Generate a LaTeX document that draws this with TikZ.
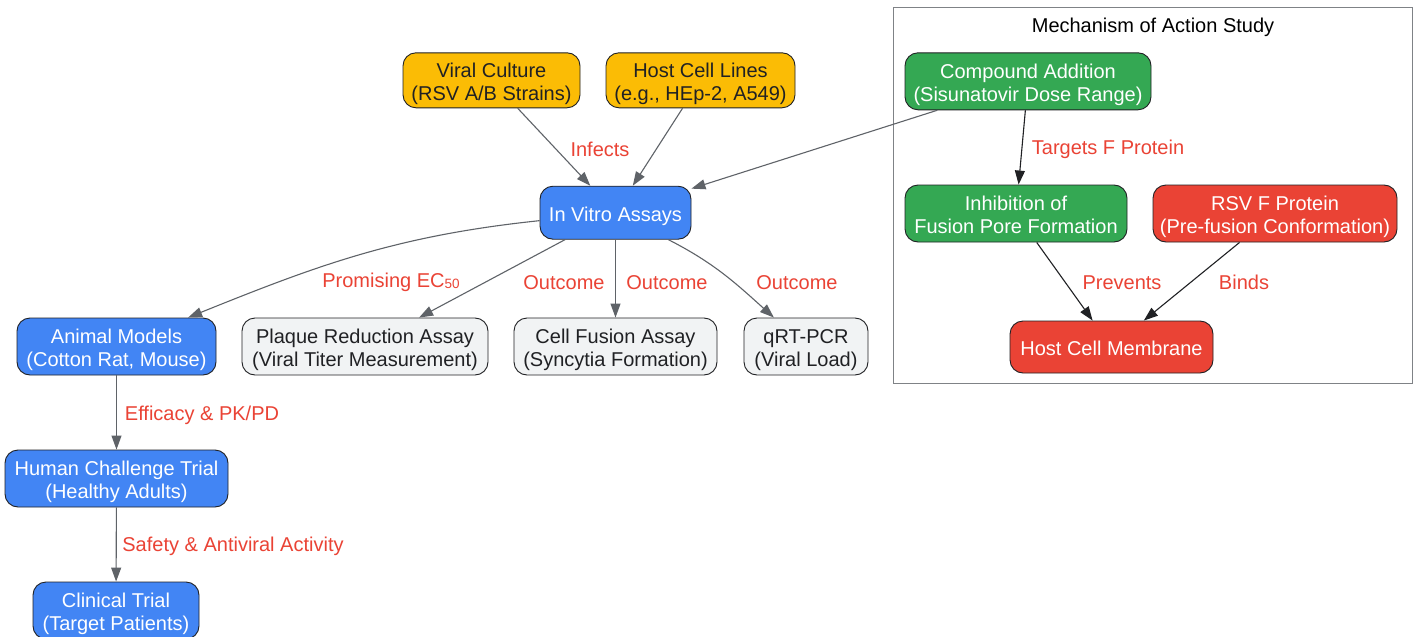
\documentclass[tikz,border=0pt]{standalone}
\usepackage{fontspec}
\setmainfont{Liberation Sans}
\usetikzlibrary{arrows.meta}
\definecolor{cyellow}{HTML}{FBBC05}
\definecolor{cblue}{HTML}{4285F4}
\definecolor{cgreen}{HTML}{34A853}
\definecolor{cred}{HTML}{EA4335}
\definecolor{cgrayfill}{HTML}{F1F3F4}
\definecolor{cdark}{HTML}{202124}
\definecolor{cedge}{HTML}{5F6368}
\definecolor{clabel}{HTML}{EA4335}
\def\bxH{44.5pt}
\tikzset{
  bxh/.code={\def\bxH{#1}},
  box/.style={draw=cdark, line width=0.9pt, rounded corners=13pt, inner sep=0pt, align=center,
    font=\fontsize{20}{23}\selectfont, bxh=45pt,
    execute at begin node={\rule{0pt}{\bxH}},
    execute at end node={\rule[-4.5pt]{0pt}{0pt}}},
  single/.style={bxh=21.5pt},
  yel/.style={box, fill=cyellow, text=cdark},
  blu/.style={box, fill=cblue, text=white},
  grn/.style={box, fill=cgreen, text=white},
  rd/.style={box, fill=cred, text=white},
  gry/.style={box, fill=cgrayfill, text=cdark},
  edge/.style={draw=cedge, line width=1.1pt, -{Triangle[length=14pt,width=10pt]}},
  bedge/.style={draw=cdark, line width=1.1pt, -{Triangle[length=14pt,width=10pt]}},
  lbl/.style={text=clabel, inner sep=0pt, font=\fontsize{20}{23}\selectfont},
}
\begin{document}
\begin{tikzpicture}[x=1pt,y=1pt]
\useasboundingbox[fill=white] (0,0) rectangle (1417,-637);
% cluster
\node[draw=cedge!80, line width=0.9pt, minimum width=519pt, minimum height=376pt, inner sep=0pt] (cluster) at (1152.5,-195) {};
\node[text=black, inner sep=0pt, font=\fontsize{20}{23}\selectfont] (ctitle) at (1153,-27) {Mechanism of Action Study};
% nodes
\node[yel, minimum width=177pt, minimum height=55pt] (vc) at (491.5,-80.3) {Viral Culture\\(RSV A/B Strains)};
\node[yel, minimum width=189pt, minimum height=55pt] (hc) at (700.5,-80.3) {Host Cell Lines\\(e.g., HEp-2, A549)};
\node[blu, single, minimum width=151pt, minimum height=53pt] (iv) at (615.5,-212.7) {In Vitro Assays};
\node[blu, minimum width=199pt, minimum height=57pt] (am) at (116.5,-346.5) {Animal Models\\(Cotton Rat, Mouse)};
\node[gry, minimum width=246pt, minimum height=57pt] (pr) at (365,-346.5) {Plaque Reduction Assay\\(Viral Titer Measurement)};
\node[gry, minimum width=203pt, minimum height=57pt] (cf) at (615.5,-346.5) {Cell Fusion Assay\\(Syncytia Formation)};
\node[gry, minimum width=124pt, minimum height=57pt] (qr) at (806,-346.5) {qRT-PCR\\(Viral Load)};
\node[blu, minimum width=223pt, minimum height=57pt] (hct) at (116.5,-478.5) {Human Challenge Trial\\(Healthy Adults)};
\node[blu, minimum width=166pt, minimum height=57pt] (ct) at (116,-610.5) {Clinical Trial\\(Target Patients)};
\node[grn, minimum width=246pt, minimum height=57pt] (ca) at (1028,-81.3) {Compound Addition\\(Sisunatovir Dose Range)};
\node[grn, minimum width=222pt, minimum height=57pt] (inh) at (1016,-213.5) {Inhibition of\\Fusion Pore Formation};
\node[rd, minimum width=244pt, minimum height=57pt] (rsv) at (1275,-213.5) {RSV F Protein\\(Pre-fusion Conformation)};
\node[rd, single, minimum width=203pt, minimum height=52pt] (hcm) at (1111.5,-347) {Host Cell Membrane};
% edges
\draw[edge] (vc) -- (iv);
\draw[edge] (hc) -- (iv);
\draw[edge] (ca) -- (iv);
\draw[edge] (iv) to[out=186,in=22] (am);
\draw[edge] (iv) -- (pr);
\draw[edge] (iv) -- (cf);
\draw[edge] (iv) to[out=333,in=138] (qr);
\draw[edge] (am) -- (hct);
\draw[edge] (hct) -- (ct);
\draw[bedge] (ca) -- (inh);
\draw[bedge] (inh) -- (hcm);
\draw[bedge] (rsv) -- (hcm);
% labels
\node[lbl] (l1) at (600,-149.5) {Infects};
\node[lbl] (l2) at (391,-282.5) {Promising EC\raisebox{-0.1ex}{\fontsize{13.5}{14}\selectfont 50}};
\node[lbl] (l3) at (564,-282.5) {Outcome};
\node[lbl] (l4) at (667,-282.5) {Outcome};
\node[lbl] (l5) at (797,-282.5) {Outcome};
\node[lbl] (l6) at (202,-415.5) {Efficacy \& PK/PD};
\node[lbl] (l7) at (233,-546.5) {Safety \& Antiviral Activity};
\node[lbl] (l8) at (1108,-149.5) {Targets F Protein};
\node[lbl] (l9) at (1122,-282.5) {Prevents};
\node[lbl] (l10) at (1244,-282.5) {Binds};
\end{tikzpicture}
\end{document}
